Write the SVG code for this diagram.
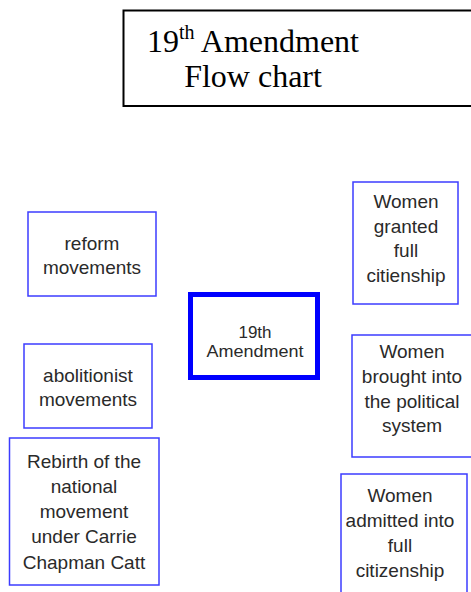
<svg xmlns="http://www.w3.org/2000/svg" width="471" height="592" viewBox="0 0 471 592">
<style>
.title{font-family:"Liberation Serif","Times New Roman",serif;font-size:32px;fill:#000;text-anchor:middle}
.sup{font-size:20px}
.box{fill:#fff;stroke:#3c3cff;stroke-width:1.5}
.main{fill:#fff;stroke:#0000ff;stroke-width:5}
.lbl{font-family:"Liberation Sans",Arial,sans-serif;font-size:19px;fill:#2a2a2a;text-anchor:middle}
.sm{font-size:17px}
</style>
<rect width="471" height="592" fill="#fff"/>
<g id="title">
<path d="M480 10.5 H123.5 V106 H480" fill="none" stroke="#000" stroke-width="2"/>
<text class="title" x="253" y="52">19<tspan class="sup" dy="-13">th</tspan><tspan dy="13"> Amendment</tspan></text>
<text class="title" x="253" y="87">Flow chart</text>
</g>
<g id="connectors"></g>
<g id="reform">
<rect class="box" x="28" y="212" width="128" height="84"/>
<text class="lbl" x="92" y="250">reform</text>
<text class="lbl" x="92" y="274">movements</text>
</g>
<g id="abolitionist">
<rect class="box" x="24" y="344" width="128" height="84"/>
<text class="lbl" x="88" y="382">abolitionist</text>
<text class="lbl" x="88" y="406">movements</text>
</g>
<g id="rebirth">
<rect class="box" x="9.5" y="438" width="149.5" height="147"/>
<text class="lbl" x="84" y="468">Rebirth of the</text>
<text class="lbl" x="84" y="493">national</text>
<text class="lbl" x="84" y="518">movement</text>
<text class="lbl" x="84" y="543">under Carrie</text>
<text class="lbl" x="84" y="569">Chapman Catt</text>
</g>
<g id="amendment">
<rect class="main" x="190.5" y="294.5" width="127" height="83"/>
<text class="lbl sm" x="255" y="338">19th</text>
<text class="lbl sm" x="255" y="357" textLength="97" lengthAdjust="spacingAndGlyphs">Amendment</text>
</g>
<g id="granted">
<rect class="box" x="353" y="182" width="105" height="122"/>
<text class="lbl" x="406" y="208">Women</text>
<text class="lbl" x="406" y="233">granted</text>
<text class="lbl" x="406" y="257">full</text>
<text class="lbl" x="406" y="282">citienship</text>
</g>
<g id="political">
<path class="box" d="M480 335 H352 V457 H480"/>
<text class="lbl" x="412" y="358">Women</text>
<text class="lbl" x="412" y="383">brought into</text>
<text class="lbl" x="412" y="408">the political</text>
<text class="lbl" x="412" y="432">system</text>
</g>
<g id="admitted">
<path class="box" d="M341 600 V474 H467 V600"/>
<text class="lbl" x="400" y="502">Women</text>
<text class="lbl" x="400" y="527">admitted into</text>
<text class="lbl" x="400" y="552">full</text>
<text class="lbl" x="400" y="577">citizenship</text>
</g>
</svg>
